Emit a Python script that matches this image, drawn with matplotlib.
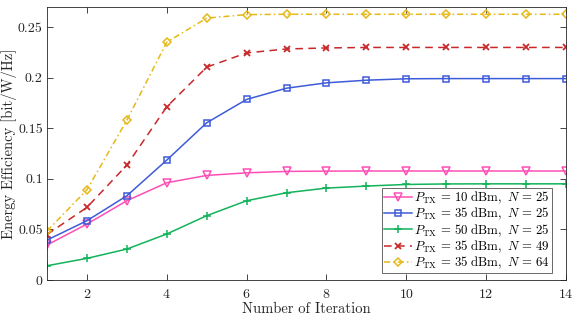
import matplotlib
matplotlib.use("Agg")
import matplotlib.pyplot as plt

iterations = list(range(1, 15))
ee_p10_n25 = [0.0346, 0.0553, 0.0784, 0.0962, 0.1034, 0.1060, 0.1074, 0.1077, 0.1078, 0.1078, 0.1078, 0.1078, 0.1078, 0.1078]
ee_p35_n25 = [0.0395, 0.0586, 0.0833, 0.1186, 0.1555, 0.1786, 0.1897, 0.1950, 0.1976, 0.1990, 0.1992, 0.1992, 0.1992, 0.1992]
ee_p50_n25 = [0.0141, 0.0214, 0.0306, 0.0455, 0.0636, 0.0784, 0.0863, 0.0909, 0.0929, 0.0945, 0.0950, 0.0951, 0.0951, 0.0951]
ee_p35_n49 = [0.0450, 0.0718, 0.1136, 0.1713, 0.2105, 0.2246, 0.2285, 0.2295, 0.2300, 0.2300, 0.2300, 0.2300, 0.2300, 0.2300]
ee_p35_n64 = [0.0484, 0.0892, 0.1580, 0.2352, 0.2590, 0.2625, 0.2628, 0.2628, 0.2628, 0.2628, 0.2628, 0.2628, 0.2628, 0.2628]

labels = [r'$P_{\mathrm{TX}}\,=\,10\ \mathrm{dBm},\ N\,=\,25$',
          r'$P_{\mathrm{TX}}\,=\,35\ \mathrm{dBm},\ N\,=\,25$',
          r'$P_{\mathrm{TX}}\,=\,50\ \mathrm{dBm},\ N\,=\,25$',
          r'$P_{\mathrm{TX}}\,=\,35\ \mathrm{dBm},\ N\,=\,49$',
          r'$P_{\mathrm{TX}}\,=\,35\ \mathrm{dBm},\ N\,=\,64$']
xticks = [2, 4, 6, 8, 10, 12, 14]
yticks = [0, 0.05, 0.1, 0.15, 0.2, 0.25]
ytick_labels = ['0', '0.05', '0.1', '0.15', '0.2', '0.25']

plt.rcParams['font.family'] = 'serif'
plt.rcParams['font.serif'] = ['cmr10', 'DejaVu Serif']
plt.rcParams['mathtext.fontset'] = 'cm'
plt.rcParams['axes.formatter.use_mathtext'] = True

fig = plt.figure(figsize=(5.73, 3.19), dpi=100)
ax = fig.add_axes([47/573, 39/319, 519/573, 273/319])

ax.plot(iterations, ee_p10_n25, '-', color='#FF4FB4', marker='v', mfc='none', ms=6, lw=1.1, mew=1.1, label=labels[0])
ax.plot(iterations, ee_p35_n25, '-', color='#3E5BD8', marker='s', mfc='none', ms=4.2, lw=1.1, mew=1.1, label=labels[1])
ax.plot(iterations, ee_p50_n25, '-', color='#12B35A', marker='+', ms=6, lw=1.1, mew=1.1, label=labels[2])
ax.plot(iterations, ee_p35_n49, '--', color='#C8282A', marker='x', ms=4.2, lw=1.1, mew=1.3, dashes=(5, 3.5), label=labels[3])
ax.plot(iterations, ee_p35_n64, '-.', color='#E6B818', marker='D', mfc='none', ms=4.2, lw=1.1, mew=1.1, dashes=(4, 2, 1, 2), label=labels[4])

ax.set_xlim(1, 14)
ax.set_ylim(0, 0.27)
ax.set_xticks(xticks)
ax.set_yticks(yticks)
ax.set_yticklabels(ytick_labels)
ax.tick_params(direction='in', top=True, right=True, labelsize=10, colors='#262626', length=4, width=0.6)
ax.tick_params(axis='y', pad=3)
ax.tick_params(axis='x', pad=6)
for s in ax.spines.values():
    s.set_color('#262626')
    s.set_linewidth(0.6)
ax.set_xlabel('Number of Iteration', fontsize=10.5, color='#262626', labelpad=1)
ax.set_ylabel('Energy Efficiency [bit/W/Hz]', fontsize=10.5, color='#262626')
ax.yaxis.set_label_coords(-30/519, 0.5)

leg = ax.legend(loc='lower right', bbox_to_anchor=((552-47)/519, 7/273), fontsize=9.2, frameon=True,
                fancybox=False, edgecolor='#262626',
                handlelength=2.2, handletextpad=0.2, borderpad=0.15, labelspacing=0.0,
                borderaxespad=0)
leg.get_frame().set_linewidth(0.6)

fig.savefig('out.png', dpi=100)
